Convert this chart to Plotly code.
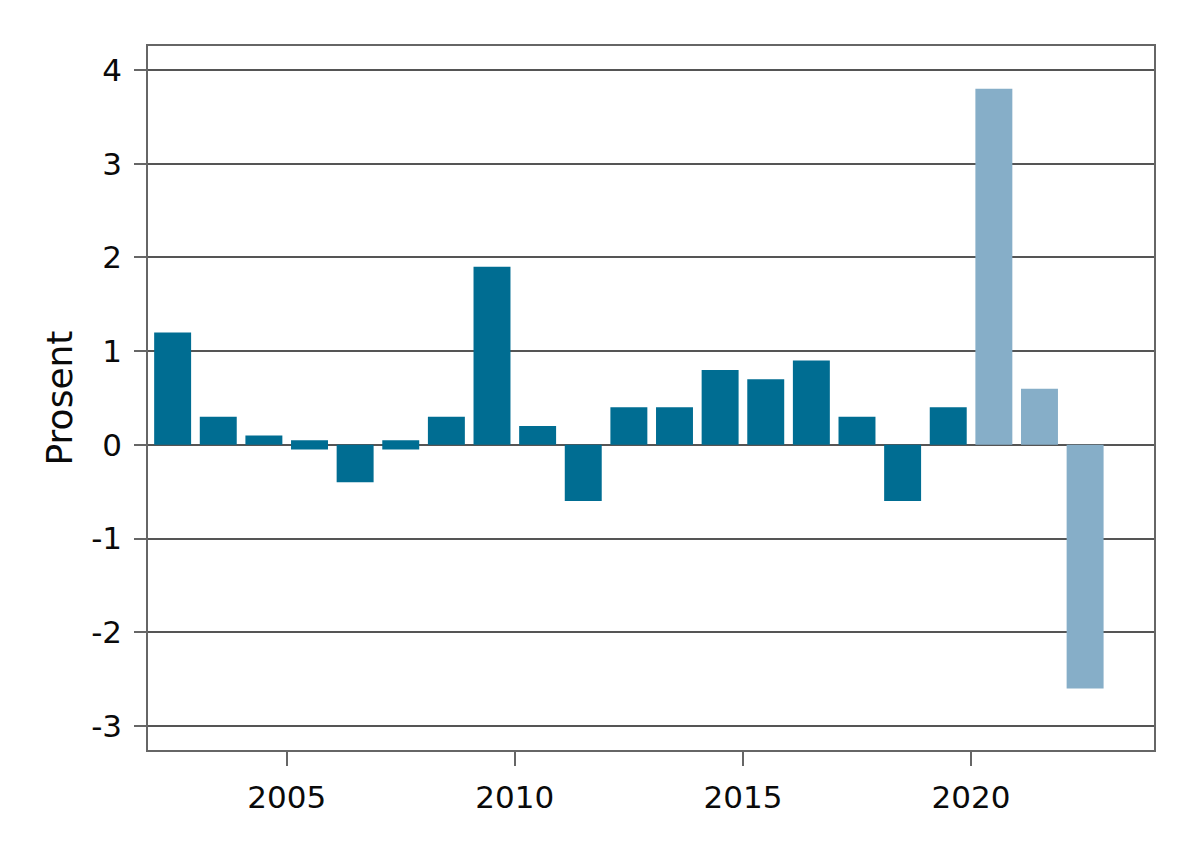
import plotly.graph_objects as go

years = list(range(2003, 2024))
values = [1.2, 0.3, 0.1, 0.0, -0.4, 0.0, 0.3, 1.9, 0.2, -0.6, 0.4,
          0.4, 0.8, 0.7, 0.9, 0.3, -0.6, 0.4, 3.8, 0.6, -2.6]
is_projection = [y >= 2021 for y in years]

x_tick_vals = [2005, 2010, 2015, 2020]
x_tick_text = ["2005", "2010", "2015", "2020"]
y_tick_vals = [-3, -2, -1, 0, 1, 2, 3, 4]
y_tick_text = ["-3", "-2", "-1", "0", "1", "2", "3", "4"]

DARK = "rgb(0,109,146)"
LIGHT = "rgb(134,174,200)"
GRID = "#555555"
ZERO_HALF = 0.05  # zero values are shown as a thin bar centred on the axis

xpos = [y - 0.5 for y in years]
heights = [v if v != 0 else 2 * ZERO_HALF for v in values]
bases = [0 if v != 0 else -ZERO_HALF for v in values]
colors = [LIGHT if p else DARK for p in is_projection]

fig = go.Figure(go.Bar(
    x=xpos, y=heights, base=bases,
    marker=dict(color=colors, line=dict(width=0)),
    width=0.81,
    customdata=values,
    hovertemplate="%{customdata}<extra></extra>",
))

font_family = "DejaVu Sans"
fig.update_layout(
    width=1200, height=861,
    margin=dict(l=140, r=54, t=38, b=119),
    paper_bgcolor="white", plot_bgcolor="white",
    showlegend=False,
    font=dict(family=font_family, color="#0a0a0a"),
    xaxis=dict(
        range=[2001.96, 2024.01],
        tickmode="array", tickvals=x_tick_vals, ticktext=x_tick_text,
        ticks="outside", ticklen=14, tickwidth=1.5, tickcolor="#666666",
        tickfont=dict(size=31, family=font_family, color="#0a0a0a"),
        ticklabelstandoff=5,
        showgrid=False, zeroline=False,
        showline=True, linecolor="#666666", linewidth=1.5, mirror=True,
    ),
    yaxis=dict(
        range=[-3.256, 4.256],
        tickmode="array", tickvals=y_tick_vals, ticktext=y_tick_text,
        ticks="outside", ticklen=12, tickwidth=1.5, tickcolor="#666666",
        tickfont=dict(size=31, family=font_family, color="#0a0a0a"),
        ticklabelstandoff=6,
        showgrid=True, gridcolor=GRID, gridwidth=2,
        zeroline=True, zerolinecolor=GRID, zerolinewidth=2,
        showline=True, linecolor="#666666", linewidth=1.5, mirror=True,
        title=dict(text="Prosent", font=dict(size=36, family=font_family, color="#0a0a0a"), standoff=8),
    ),
)

fig.write_html("out.html")
